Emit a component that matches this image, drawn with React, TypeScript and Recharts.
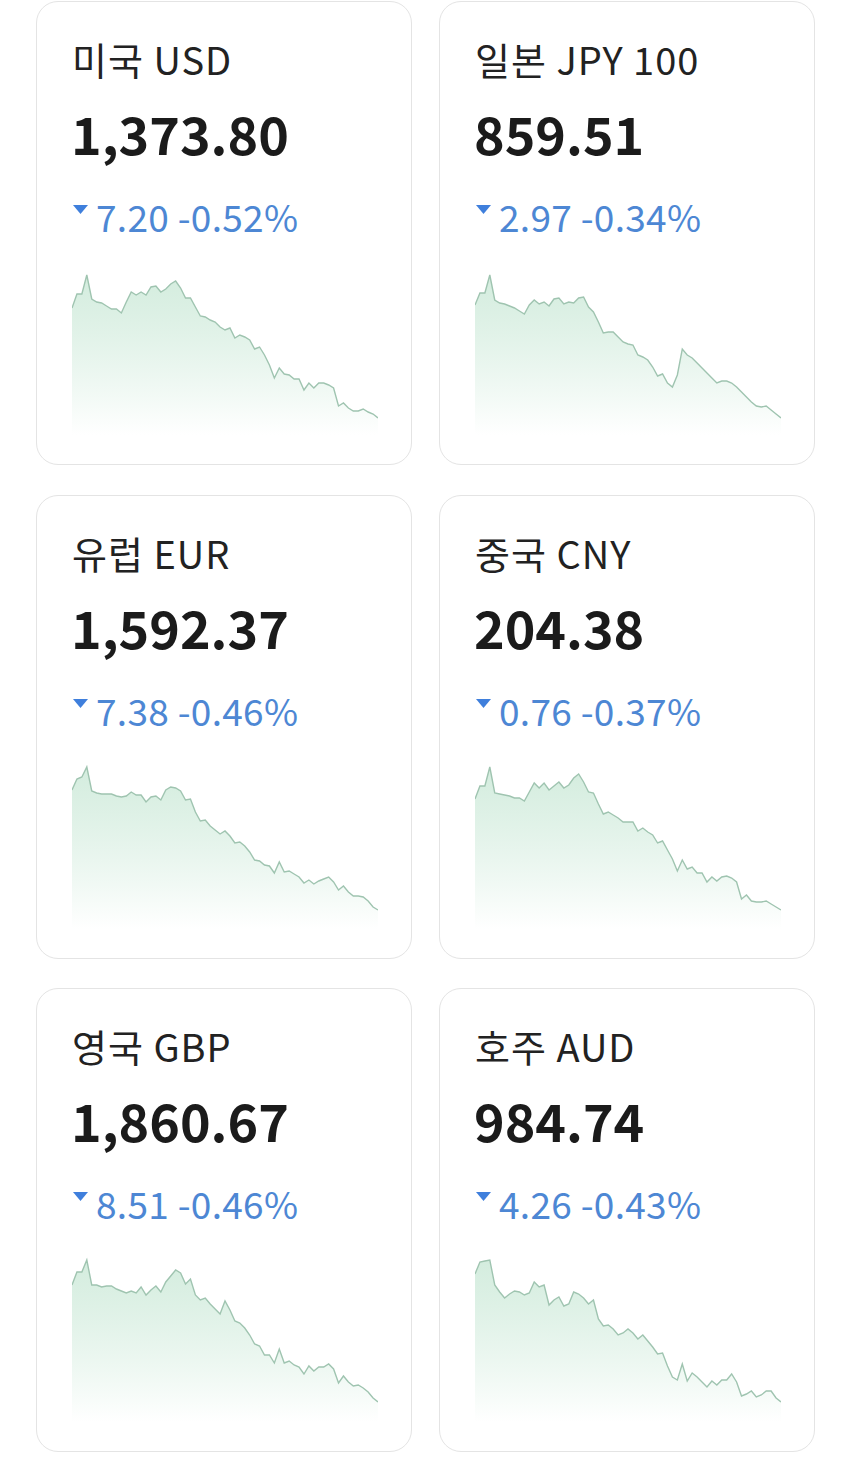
import { AreaChart, Area, XAxis, YAxis } from 'recharts';

// sparkline heights (px above the chart floor)
const usdTrend = [127, 141, 141, 160, 136, 133, 132, 129, 126, 126, 122, 133, 143, 140, 143, 140, 148, 149, 143, 146, 151, 154, 147, 137, 137, 128, 119, 118, 115, 113, 108, 105, 107, 97, 100, 98, 95, 86, 88, 80, 70, 57, 67, 61, 60, 56, 56, 45, 52, 47, 52, 52, 50, 47, 29, 32, 27, 24, 24, 26, 23, 21, 17];
const jpyTrend = [130, 142, 142, 160, 135, 132, 131, 129, 127, 124, 121, 130, 135, 131, 133, 129, 136, 137, 131, 133, 132, 137, 138, 128, 123, 113, 102, 103, 103, 98, 93, 91, 90, 80, 78, 75, 68, 59, 61, 52, 48, 60, 86, 80, 77, 72, 67, 62, 57, 52, 54, 54, 52, 48, 43, 38, 33, 29, 28, 29, 25, 21, 17];
const eurTrend = [139, 150, 152, 162, 138, 136, 135, 135, 135, 133, 132, 133, 137, 134, 134, 127, 132, 133, 129, 139, 142, 141, 138, 129, 130, 117, 108, 109, 103, 99, 95, 98, 93, 86, 87, 83, 77, 69, 68, 64, 63, 56, 67, 57, 58, 55, 52, 46, 49, 45, 48, 50, 52, 47, 39, 43, 37, 33, 33, 32, 28, 22, 19];
const cnyTrend = [130, 143, 143, 162, 136, 135, 134, 133, 131, 131, 128, 137, 146, 141, 146, 139, 143, 147, 141, 144, 151, 155, 147, 137, 136, 125, 115, 117, 114, 111, 107, 107, 107, 98, 101, 97, 94, 86, 88, 79, 70, 58, 69, 60, 62, 56, 56, 47, 52, 48, 52, 53, 51, 47, 30, 34, 28, 27, 27, 28, 25, 22, 19];
const gbpTrend = [137, 150, 150, 162, 137, 137, 135, 136, 136, 133, 131, 129, 131, 129, 135, 127, 132, 136, 130, 140, 146, 152, 149, 138, 143, 127, 122, 124, 118, 113, 108, 121, 112, 101, 99, 94, 87, 78, 76, 67, 67, 59, 73, 59, 61, 57, 55, 48, 56, 51, 55, 55, 58, 53, 39, 46, 40, 36, 37, 34, 30, 24, 20];
const audTrend = [148, 160, 161, 162, 137, 130, 124, 128, 131, 130, 127, 129, 140, 135, 137, 117, 122, 125, 116, 118, 130, 128, 124, 118, 122, 103, 96, 97, 93, 87, 89, 93, 89, 83, 87, 81, 75, 68, 69, 56, 45, 42, 58, 41, 49, 45, 40, 35, 41, 37, 42, 42, 48, 40, 26, 28, 31, 25, 27, 31, 31, 24, 20];

const titles = ['미국 USD', '일본 JPY 100', '유럽 EUR', '중국 CNY', '영국 GBP', '호주 AUD'];
const prices = ['1,373.80', '859.51', '1,592.37', '204.38', '1,860.67', '984.74'];
const changes = ['7.20 -0.52%', '2.97 -0.34%', '7.38 -0.46%', '0.76 -0.37%', '8.51 -0.46%', '4.26 -0.43%'];
const trends = [usdTrend, jpyTrend, eurTrend, cnyTrend, gbpTrend, audTrend];

const FONT = '"Noto Sans CJK KR", "Noto Sans", sans-serif';

function Card({ idx }: { idx: number }) {
  const col = idx % 2;
  const row = Math.floor(idx / 2);
  const data = trends[idx].map((v, i) => ({ i, v }));
  const gid = `spark-${idx}`;
  return (
    <div
      style={{
        position: 'absolute',
        left: col === 0 ? 36 : 439,
        top: 1 + row * 493.5,
        width: 376,
        height: 464,
        boxSizing: 'border-box',
        border: '1.5px solid #e4e4e4',
        borderRadius: 22,
        background: '#fff',
        fontFamily: FONT,
      }}
    >
      <div style={{ position: 'absolute', left: 35, top: 38, fontSize: 38, lineHeight: 1, color: '#222', whiteSpace: 'nowrap', letterSpacing: 1 }}>
        {titles[idx]}
      </div>
      <div style={{ position: 'absolute', left: 34, top: 105, fontSize: 52, lineHeight: 1, fontWeight: 700, color: '#1b1b1b', whiteSpace: 'nowrap' }}>
        {prices[idx]}
      </div>
      <svg style={{ position: 'absolute', left: 36, top: 203 }} width={15} height={9}>
        <polygon points="0,0 15,0 7.5,9" fill="#3f7fdc" />
      </svg>
      <div style={{ position: 'absolute', left: 59, top: 196, fontSize: 37, lineHeight: 1, color: '#4d87d4', whiteSpace: 'nowrap', letterSpacing: 0.3 }}>
        {changes[idx]}
      </div>
      <div style={{ position: 'absolute', left: 35, top: 258 }}>
        <AreaChart width={306} height={175} data={data} margin={{ top: 0, right: 0, bottom: 0, left: 0 }}>
          <defs>
            <linearGradient id={gid} x1="0" y1="0" x2="0" y2="1">
              <stop offset="0%" stopColor="#c9e8d6" stopOpacity={0.8} />
              <stop offset="100%" stopColor="#ffffff" stopOpacity={1} />
            </linearGradient>
          </defs>
          <XAxis dataKey="i" hide />
          <YAxis hide domain={[0, 175]} />
          <Area
            type="linear"
            dataKey="v"
            stroke="#9fc4b0"
            strokeWidth={1.4}
            fill={`url(#${gid})`}
            fillOpacity={1}
            dot={false}
            activeDot={false}
            isAnimationActive={false}
          />
        </AreaChart>
      </div>
    </div>
  );
}

export default function App() {
  return (
    <div style={{ position: 'absolute', left: 0, top: 0, width: 850, height: 1471, background: '#fff', overflow: 'hidden' }}>
      {titles.map((_, i) => (
        <Card key={i} idx={i} />
      ))}
    </div>
  );
}
